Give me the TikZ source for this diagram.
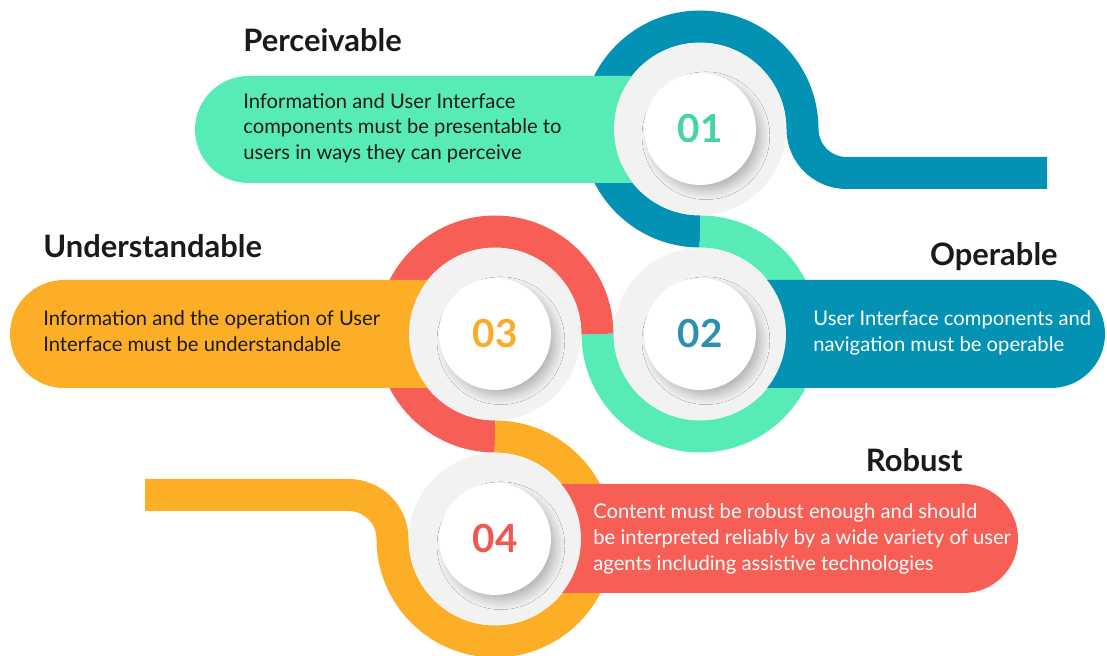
\documentclass[tikz,border=0pt]{standalone}
\usepackage{fontspec}
\setmainfont{Lato}
\usepackage{xcolor}
\usetikzlibrary{shadows.blur}

\definecolor{mint}{HTML}{57EBB6}
\definecolor{petrol}{HTML}{0392B3}
\definecolor{amber}{HTML}{FDAE27}
\definecolor{coral}{HTML}{F75F56}
\definecolor{ringgrey}{HTML}{F2F2F2}
\definecolor{numone}{HTML}{43D6A0}
\definecolor{numtwo}{HTML}{2E90B0}
\definecolor{numthree}{HTML}{FBAA2A}
\definecolor{numfour}{HTML}{F0574F}
\definecolor{ink}{HTML}{1A1A1A}

\tikzset{
  band/.style={line width=0.64cm},
  hub/.style={circle, fill=ringgrey, minimum size=3.44cm, inner sep=0pt},
  disc/.style={circle, fill=white, minimum size=2.24cm, inner sep=0pt,
    font=\fontsize{22}{22}\selectfont\bfseries,
    blur shadow={shadow xshift=3.5pt, shadow yshift=-4pt, shadow scale=0.96, shadow blur radius=6pt, shadow blur steps=12, shadow opacity=30}},
  title/.style={font=\fontsize{17.6}{20}\selectfont\bfseries, text=ink, inner sep=0pt},
  desc/.style={font=\fontsize{11.5}{14.6}\selectfont, align=left, anchor=west, inner sep=0pt}
}

\begin{document}
\begin{tikzpicture}[x=0.02cm, y=0.02cm]
\useasboundingbox (0,0) rectangle (1107,656);

% rings
\draw[band, petrol] (700,424.5) arc[start angle=270, end angle=0, radius=102.5]
  arc[start angle=180, end angle=270, radius=44] -- (1047,483);
\draw[band, mint] (700,424.5) arc[start angle=90, end angle=-180, radius=102.5];
\draw[band, coral] (597.5,322) arc[start angle=0, end angle=270, radius=102.5];
\draw[band, amber] (495,219.5) arc[start angle=90, end angle=-180, radius=102.5]
  arc[start angle=0, end angle=90, radius=44] -- (145,161);

% boxes
\fill[mint] (700,473) -- (248.5,473) arc[start angle=270, end angle=90, radius=53.5] -- (700,580) -- cycle;
\fill[petrol] (700,268) -- (1051,268) arc[start angle=-90, end angle=90, radius=54] -- (700,376) -- cycle;
\fill[amber] (495,268) -- (64,268) arc[start angle=270, end angle=90, radius=54] -- (495,376) -- cycle;
\fill[coral] (495,63) -- (963.5,63) arc[start angle=-90, end angle=90, radius=54.5] -- (495,172) -- cycle;

% hubs
\node[hub] (h1) at (700,527) {};
\node[hub] (h2) at (700,322) {};
\node[hub] (h3) at (495,322) {};
\node[hub] (h4) at (495,117) {};

\node[disc, text=numone] (d1) at (h1) {01};
\node[disc, text=numtwo] (d2) at (h2) {02};
\node[disc, text=numthree] (d3) at (h3) {03};
\node[disc, text=numfour] (d4) at (h4) {04};

% titles
\node[title, anchor=base west] (perc) at (243,604) {Perceivable};
\node[title, anchor=base east] (oper) at (1058,390) {Operable};
\node[title, anchor=base west] (under) at (43,398) {Understandable};
\node[title, anchor=base east] (rob) at (963,184) {Robust};

% descriptions
\node[desc, text=ink] (perctext) at (243,528) {Information and User Interface\\components must be presentable to\\users in ways they can perceive};
\node[desc, text=white] (opertext) at (813,323) {User Interface components and\\navigation must be operable};
\node[desc, text=ink] (undertext) at (43,325) {Information and the operation of User\\Interface must be understandable};
\node[desc, text=white] (robtext) at (593,117) {Content must be robust enough and should\\be interpreted reliably by a wide variety of user\\agents including assistive technologies};
\end{tikzpicture}
\end{document}
